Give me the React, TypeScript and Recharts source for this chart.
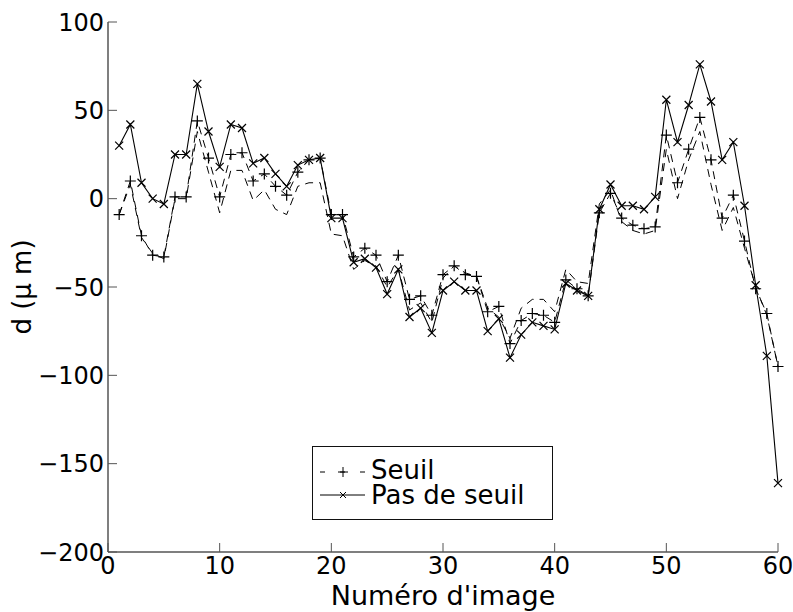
import { CartesianGrid, Legend, Line, LineChart, XAxis, YAxis } from 'recharts'

const imageNumbers = [
	1, 2, 3, 4, 5, 6, 7, 8, 9, 10, 11, 12, 13, 14, 15, 16, 17, 18, 19, 20,
	21, 22, 23, 24, 25, 26, 27, 28, 29, 30, 31, 32, 33, 34, 35, 36, 37, 38, 39, 40,
	41, 42, 43, 44, 45, 46, 47, 48, 49, 50, 51, 52, 53, 54, 55, 56, 57, 58, 59, 60,
]

const seuil = [
	-9, 10, -21, -32, -33, 1, 1, 44, 23, 1, 25, 26, 10, 14, 7, 2, 15, 22, 23, -9,
	-9, -33, -28, -32, -47, -32, -57, -55, -66, -43, -38, -43, -44, -64, -61, -82, -69, -65, -66, -70,
	-46, -51, -55, -8, 3, -11, -15, -17, -16, 36, 9, 28, 46, 22, -11, 2, -24, -51, -65, -95,
]

const pasDeSeuil = [
	30, 42, 9, 0, -3, 25, 25, 65, 38, 18, 42, 40, 20, 23, 14, 7, 19, 22, 23, -11,
	-11, -36, -34, -39, -54, -40, -67, -62, -76, -52, -47, -52, -52, -75, -68, -90, -77, -70, -72, -74,
	-48, -52, -55, -6, 8, -4, -4, -6, 1, 56, 32, 53, 76, 55, 22, 32, -4, -49, -89, -161,
]

// unlabelled dashed curve (no markers)
const autre = [
	-9, 8, -22, -31, -34, 0, 0, 38, 15, -8, 16, 16, -1, 5, -6, -9, 7, 9, 9, -20,
	-21, -40, -35, -38, -50, -40, -63, -59, -70, -45, -38, -42, -44, -62, -67, -79, -62, -57, -57, -64,
	-40, -47, -48, -3, 5, -13, -18, -20, -18, 28, 0, 22, 38, 8, -18, -5, -28, -50, -66, -95,
]

const xTicks = [0, 10, 20, 30, 40, 50, 60]
const yTicks = [-200, -150, -100, -50, 0, 50, 100]

const FONT = 'DejaVu Sans, Verdana, sans-serif'
const AXIS = '#555'

const data = imageNumbers.map((x, i) => ({
	x,
	seuil: seuil[i],
	pasDeSeuil: pasDeSeuil[i],
	autre: autre[i],
}))

const fmt = (v: number) => (v < 0 ? `\u2212${Math.abs(v)}` : `${v}`)

const renderXTick = (props: any) => {
	const { x, y, payload } = props
	return (
		<g>
			<line x1={x} y1={y} x2={x} y2={y - 9} stroke={AXIS} strokeWidth={1} />
			<text x={x} y={y + 22} textAnchor="middle" fontFamily={FONT} fontSize={24} fill="#000">
				{fmt(payload.value)}
			</text>
		</g>
	)
}

const renderYTick = (props: any) => {
	const { x, y, payload } = props
	return (
		<g>
			<line x1={x} y1={y} x2={x + 9} y2={y} stroke={AXIS} strokeWidth={1} />
			<text x={x - 4} y={y} dy="0.36em" textAnchor="end" fontFamily={FONT} fontSize={24} fill="#000">
				{fmt(payload.value)}
			</text>
		</g>
	)
}

const renderXLabel = (props: any) => {
	const { viewBox } = props
	return (
		<text
			x={viewBox.x + viewBox.width / 2}
			y={605}
			textAnchor="middle"
			fontFamily={FONT}
			fontSize={27}
			fill="#000"
		>
			Numéro d'image
		</text>
	)
}

const renderYLabel = (props: any) => {
	const { viewBox } = props
	const cx = 22
	const cy = viewBox.y + viewBox.height / 2
	return (
		<text
			x={cx}
			y={cy}
			dy="0.36em"
			textAnchor="middle"
			transform={`rotate(-90 ${cx} ${cy})`}
			fontFamily={FONT}
			fontSize={26}
			fill="#000"
		>
			d (µ m)
		</text>
	)
}

const PlusDot = (props: any) => {
	const { cx, cy, index } = props
	if (cx == null || cy == null) return <g key={`p${index}`} />
	const r = 5.5
	return (
		<path
			key={`p${index}`}
			d={`M${cx - r},${cy}H${cx + r}M${cx},${cy - r}V${cy + r}`}
			stroke="#000"
			strokeWidth={1.2}
			fill="none"
		/>
	)
}

const CrossDot = (props: any) => {
	const { cx, cy, index } = props
	if (cx == null || cy == null) return <g key={`c${index}`} />
	const r = 4
	return (
		<path
			key={`c${index}`}
			d={`M${cx - r},${cy - r}L${cx + r},${cy + r}M${cx - r},${cy + r}L${cx + r},${cy - r}`}
			stroke="#000"
			strokeWidth={1.2}
			fill="none"
		/>
	)
}

const renderLegend = () => (
	<div
		style={{
			width: 241,
			height: 74,
			boxSizing: 'border-box',
			border: '1.5px solid #111',
			background: '#fff',
			position: 'relative',
		}}
	>
		<svg width={241} height={74} style={{ position: 'absolute', left: -1.5, top: -1.5 }}>
			<line x1={8} y1={26} x2={53} y2={26} stroke="#000" strokeWidth={1} strokeDasharray="5 15" />
			<path d="M26,26H36M31,21V31" stroke="#000" strokeWidth={1} />
			<text x={59} y={33} fontFamily={FONT} fontSize={26} fill="#000">
				Seuil
			</text>
			<line x1={8} y1={49} x2={53} y2={49} stroke="#000" strokeWidth={1} />
			<path d="M28,46L34,52M28,52L34,46" stroke="#000" strokeWidth={1} />
			<text x={59} y={58} fontFamily={FONT} fontSize={26} fill="#000">
				Pas de seuil
			</text>
		</svg>
	</div>
)

export default function App() {
	return (
		<div style={{ position: 'absolute', left: 0, top: 0, width: 793, height: 612, background: '#fff' }}>
			<LineChart width={793} height={612} data={data} margin={{ top: 22, right: 15, bottom: 0, left: 0 }}>
				<CartesianGrid stroke="none" />
				<XAxis
					dataKey="x"
					type="number"
					domain={[0, 60]}
					ticks={xTicks}
					height={60}
					tickSize={0}
					tickMargin={0}
					tickLine={false}
					axisLine={{ stroke: AXIS, strokeWidth: 1.5 }}
					tick={renderXTick}
					label={renderXLabel}
					interval={0}
				/>
				<YAxis
					type="number"
					domain={[-200, 100]}
					ticks={yTicks}
					width={108}
					tickSize={0}
					tickMargin={0}
					tickLine={false}
					axisLine={{ stroke: AXIS, strokeWidth: 1.5 }}
					tick={renderYTick}
					label={renderYLabel}
					interval={0}
				/>
				<Legend
					content={renderLegend}
					layout="vertical"
					align="center"
					verticalAlign="middle"
					wrapperStyle={{ left: 312, top: 446, width: 241, height: 74 }}
				/>
				<Line
					dataKey="autre"
					stroke="#000"
					strokeWidth={1}
					strokeDasharray="8 6"
					dot={false}
					activeDot={false}
					legendType="none"
					isAnimationActive={false}
				/>
				<Line
					dataKey="seuil"
					name="Seuil"
					stroke="#000"
					strokeWidth={1}
					strokeDasharray="8 6"
					dot={PlusDot}
					activeDot={false}
					isAnimationActive={false}
				/>
				<Line
					dataKey="pasDeSeuil"
					name="Pas de seuil"
					stroke="#000"
					strokeWidth={1.1}
					dot={CrossDot}
					activeDot={false}
					isAnimationActive={false}
				/>
			</LineChart>
		</div>
	)
}
